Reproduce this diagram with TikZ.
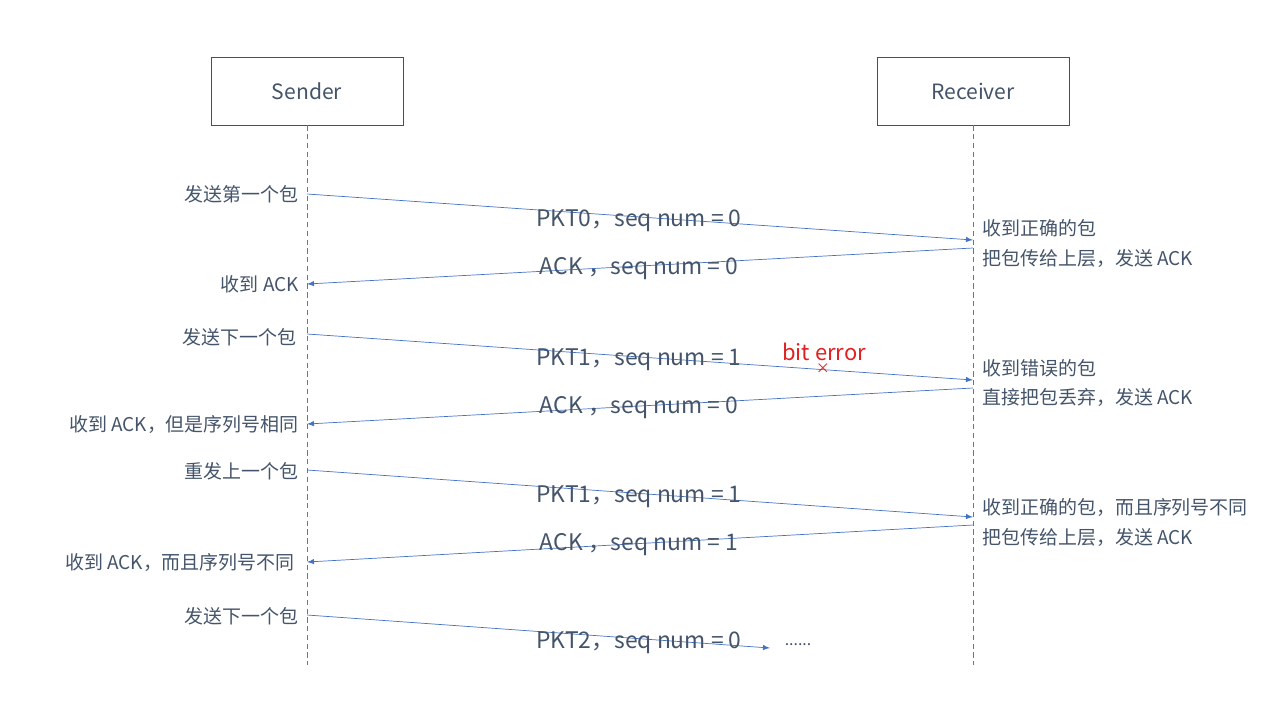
\documentclass[tikz,border=0pt]{standalone}
\usepackage{fontspec}
\setmainfont{Noto Sans CJK SC}
\usepackage{tikz}
\usetikzlibrary{arrows}

\definecolor{txtgray}{HTML}{44546A}
\definecolor{msgblue}{HTML}{4472C4}
\definecolor{boxblue}{HTML}{2F528F}
\definecolor{errred}{HTML}{E02020}

\tikzset{
  party/.style={draw=boxblue, minimum width=192*0.02cm, minimum height=68*0.02cm,
    text=txtgray, font=\fontsize{12}{15}\selectfont},
  lifeline/.style={densely dashed, draw=txtgray!80, thin},
  msg/.style={-latex, draw=msgblue, thin},
  msglabel/.style={text=txtgray, font=\fontsize{13}{15}\selectfont},
  leftnote/.style={anchor=east, text=txtgray, font=\fontsize{10.8}{13}\selectfont},
  rightnote/.style={anchor=west, text=txtgray, font=\fontsize{10.8}{13}\selectfont}
}

\begin{document}
\begin{tikzpicture}[x=0.02cm, y=-0.02cm]
					\useasboundingbox (0,0) rectangle (1280,720);

					% Parties
					\node[party] (snd) at (307,91) {Sender};
					\node[party] (rcv) at (973,91) {Receiver};

					% Lifelines
					\coordinate (sndend) at (307,665);
					\coordinate (rcvend) at (973,665);
					\draw[lifeline] (snd.south) -- (sndend);
					\draw[lifeline] (rcv.south) -- (rcvend);

					% Points on the lifelines
					\foreach \n/\sy/\ry in {1/194/240, 3/334/380, 5/470/517}
					{
						\coordinate (s\n) at (307,\sy);
						\coordinate (r\n) at (973,\ry);
					}
					\foreach \n/\ry/\sy in {2/248/284, 4/388/424, 6/525/562}
					{
						\coordinate (r\n) at (973,\ry);
						\coordinate (s\n) at (307,\sy);
					}
					\coordinate (s7) at (307,615);
					\coordinate (r7) at (770,648);

					% Data packets
					\foreach \n in {1,3,5,7}
					\draw[msg] (s\n) -- (r\n);

					% ACKs
					\foreach \n in {2,4,6}
					\draw[msg] (r\n) -- (s\n);

					% Message labels
					\node[msglabel] (m1) at (639,221) {PKT0，seq num = 0};
					\node[msglabel] (m2) at (639,269) {ACK ，seq num = 0};
					\node[msglabel] (m3) at (639,360) {PKT1，seq num = 1};
					\node[msglabel] (m4) at (639,408) {ACK ，seq num = 0};
					\node[msglabel] (m5) at (639,497) {PKT1，seq num = 1};
					\node[msglabel] (m6) at (639,545) {ACK ，seq num = 1};
					\node[msglabel] (m7) at (639,643) {PKT2，seq num = 0};
					\node[text=txtgray, font=\small] (more) at (798,645) {......};

					% Bit error
					\node[text=errred, font=\fontsize{8}{8}\selectfont, inner sep=0pt] (cross) at (823,369) {×};
					\node[text=errred, font=\fontsize{12.5}{15}\selectfont] (err) at (824,352) {bit error};

					% Sender notes
					\node[leftnote] (n1) at (305,194) {发送第一个包};
					\node[leftnote] (n2) at (305,284) {收到 ACK};
					\node[leftnote] (n3) at (303,337) {发送下一个包};
					\node[leftnote] (n4) at (305,424) {收到 ACK，但是序列号相同};
					\node[leftnote] (n5) at (305,471) {重发上一个包};
					\node[leftnote] (n6) at (301,562) {收到 ACK，而且序列号不同};
					\node[leftnote] (n7) at (305,616) {发送下一个包};

					% Receiver notes
					\node[rightnote] (a1) at (976,228) {收到正确的包};
					\node[rightnote] (a2) at (976,258) {把包传给上层，发送 ACK};
					\node[rightnote] (a3) at (976,368) {收到错误的包};
					\node[rightnote] (a4) at (976,397) {直接把包丢弃，发送 ACK};
					\node[rightnote] (a5) at (976,507) {收到正确的包，而且序列号不同};
					\node[rightnote] (a6) at (976,537) {把包传给上层，发送 ACK};
				\end{tikzpicture}
\end{document}
